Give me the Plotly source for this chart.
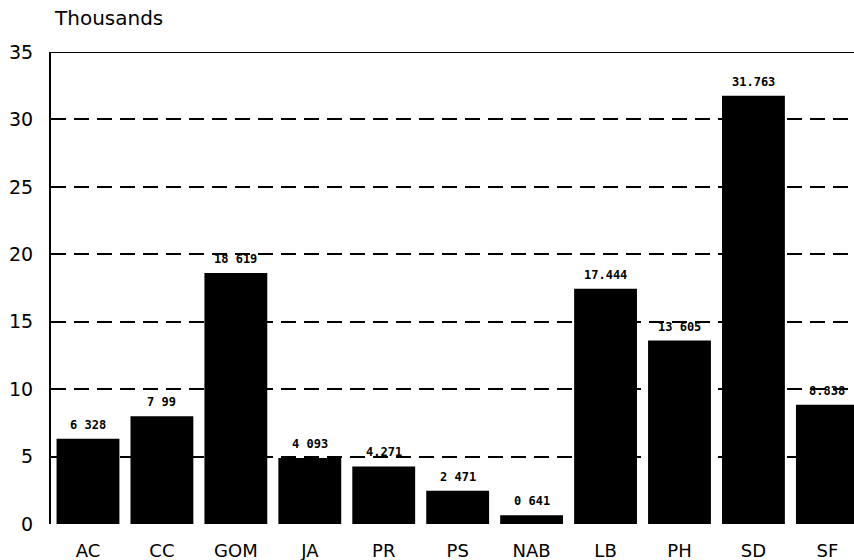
import plotly.graph_objects as go

categories = ["AC", "CC", "GOM", "JA", "PR", "PS", "NAB", "LB", "PH", "SD", "SF"]
values = [6.328, 7.99, 18.619, 4.893, 4.271, 2.471, 0.641, 17.444, 13.605, 31.763, 8.838]
labels = ["6 328", "7 99", "18 619", "4 093", "4.271", "2 471", "0 641", "17.444", "13 605", "31.763", "8.838"]
y_ticks = [0, 5, 10, 15, 20, 25, 30, 35]

x_pos = list(range(len(categories)))

fig = go.Figure()
fig.add_trace(go.Bar(
    x=x_pos, y=values, width=0.85,
    marker=dict(color="black", line=dict(width=0)),
    hoverinfo="skip",
))

for xi, v, lab in zip(x_pos, values, labels):
    fig.add_annotation(x=xi, y=v, text="<b>" + lab + "</b>", showarrow=False, yanchor="middle",
                       yshift=14, font=dict(family="DejaVu Sans Mono", size=12, color="black"))

fig.update_layout(
    width=854, height=560, margin=dict(l=51, r=0, t=52, b=36),
    paper_bgcolor="white", plot_bgcolor="white", showlegend=False,
    font=dict(family="DejaVu Sans", color="black"),
)
fig.update_xaxes(
    tickmode="array", tickvals=x_pos, ticktext=categories,
    range=[-0.5, 10.36], showgrid=False, zeroline=False, showline=False,
    ticks="outside", ticklen=10, tickcolor="white", automargin=False,
    tickfont=dict(size=18, family="DejaVu Sans"),
)
fig.update_yaxes(
    range=[0, 35], tickvals=y_ticks, showgrid=True, gridcolor="black",
    griddash="15px,8px", gridwidth=2, zeroline=False, showline=True,
    linecolor="black", linewidth=2, ticks="outside", ticklen=12, tickcolor="white",
    automargin=False, tickfont=dict(size=19, family="DejaVu Sans"),
)
fig.add_shape(type="line", xref="paper", yref="y", x0=0, x1=1, y0=35, y1=35,
              line=dict(color="black", width=2))
fig.add_annotation(text="Thousands", xref="paper", yref="paper", x=0.0, y=1.0,
                   xshift=1, yshift=20, xanchor="left", yanchor="bottom", showarrow=False,
                   font=dict(size=20, family="DejaVu Sans"))
fig.write_html("out.html", config={"displayModeBar": False},
               post_script="document.body.style.margin='0px';")
